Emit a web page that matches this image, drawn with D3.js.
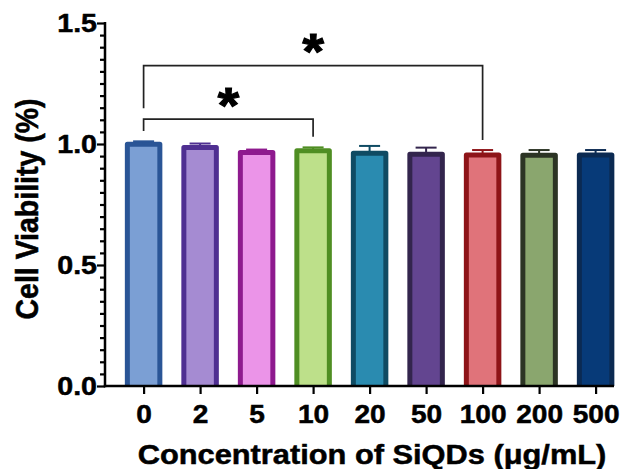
<!DOCTYPE html>
<html><head><meta charset="utf-8">
<script src="https://cdn.jsdelivr.net/npm/d3@7"></script>
<style>
body{margin:0;background:#fff}
svg text{font-family:"Liberation Sans",Arial,Helvetica,sans-serif;font-weight:bold;fill:#000;stroke:#000;stroke-width:0.5px}
</style>
</head><body>
<svg id="chart" width="624" height="469"></svg>
<script>
// ---- data ----
const categories = ["0","2","5","10","20","50","100","200","500"];
const values = [0.999,0.986,0.965,0.972,0.962,0.958,0.955,0.954,0.955];
const errors = [0.012,0.016,0.012,0.014,0.030,0.027,0.020,0.021,0.020];
const strokeColors = ["#2a5596","#4f2f91","#8e1a8e","#4f8e23","#0f4b63","#33254d","#8e1418","#2c3424","#0b2a52"];
const fillColors = ["#7b9fd4","#a58bd2","#eb94e8","#bde08a","#2a8bb0","#634590","#e0737a","#8aa66e","#073a78"];
const yTicks = [0,0.5,1.0,1.5];
const yMinorStep = 0.05;
const compFrom = ["0","0"];
const compTo = ["10","100"];
const compLevel = [1.103,1.324];
const compLeftEnd = [1.054,1.148];
const compRightEnd = [1.030,1.017];
const compLabel = ["*","*"];
const xTitle = "Concentration of SiQDs (\u03bcg/mL)";
const yTitle = "Cell Viability (%)";

// ---- layout ----
const SX = 1.1; // horizontal glyph stretch seen in reference
const plotLeft = 105, plotRight = 614, plotTop = 23, plotBottom = 386;
const svg = d3.select("#chart");
svg.append("rect").attr("width",624).attr("height",469).attr("fill","#fff");

const x = d3.scalePoint().domain(categories).range([143.6, 595.6]);
const y = d3.scaleLinear().domain([0,1.5]).range([plotBottom, plotTop]);
const barW = 32.5;

// bars
const g = svg.append("g");
categories.forEach((c,i)=>{
  const cx = x(c), yt = y(values[i]), yb = y(0);
  g.append("path")
    .attr("d", `M${cx-barW/2},${yb}V${yt}H${cx+barW/2}V${yb}`)
    .attr("fill", fillColors[i])
    .attr("stroke", strokeColors[i])
    .attr("stroke-width", 5)
    .attr("stroke-linejoin","round");
  const ye = y(values[i]+errors[i]);
  g.append("line").attr("x1",cx).attr("x2",cx).attr("y1",yt).attr("y2",ye)
    .attr("stroke",strokeColors[i]).attr("stroke-width",2);
  g.append("line").attr("x1",cx-10.5).attr("x2",cx+10.5).attr("y1",ye).attr("y2",ye)
    .attr("stroke",strokeColors[i]).attr("stroke-width",2);
});

// y axis
const yMinor = d3.range(0, 1.5+1e-9, yMinorStep).filter(v => !yTicks.some(t => Math.abs(t-v)<1e-6));
const yAxisMinor = svg.append("g").attr("transform",`translate(${plotLeft},0)`)
  .call(d3.axisLeft(y).tickValues(yMinor).tickSize(5).tickFormat(""));
yAxisMinor.select(".domain").remove();
yAxisMinor.selectAll("line").attr("stroke","#000").attr("stroke-width",2.2);

const yAxis = svg.append("g").attr("transform",`translate(${plotLeft},0)`)
  .call(d3.axisLeft(y).tickValues(yTicks).tickSize(8).tickFormat(d3.format(".1f")));
yAxis.select(".domain").remove();
yAxis.selectAll("line").attr("stroke","#000").attr("stroke-width",2.2);
yAxis.selectAll("text")
  .attr("x",0).attr("dy",null).attr("y",0)
  .attr("text-anchor","end")
  .attr("transform","translate(-8,8.8) scale(" + SX + ",1)")
  .style("font-size","26px");

svg.append("line").attr("x1",plotLeft).attr("x2",plotLeft).attr("y1",y(1.5)-1).attr("y2",y(0)+1.2)
  .attr("stroke","#000").attr("stroke-width",2.5);

// x axis
const xAxis = svg.append("g").attr("transform",`translate(0,${plotBottom})`)
  .call(d3.axisBottom(x).tickSize(8));
xAxis.select(".domain").remove();
xAxis.selectAll("line").attr("stroke","#000").attr("stroke-width",2.2);
xAxis.selectAll("text")
  .attr("y",0).attr("dy",null)
  .attr("transform","translate(0,36.5) scale(" + SX + ",1)")
  .style("font-size","25.5px");
svg.append("line").attr("x1",plotLeft-1.2).attr("x2",plotRight).attr("y1",y(0)).attr("y2",y(0))
  .attr("stroke","#000").attr("stroke-width",2.5);

// titles
svg.append("text").attr("text-anchor","middle")
  .attr("transform",`translate(372,463.5) scale(${SX},1)`)
  .style("font-size","28px").text(xTitle);
svg.append("text").attr("text-anchor","middle")
  .attr("transform",`translate(37.5,209) scale(${SX},1) rotate(-90)`)
  .style("font-size","28.5px").text(yTitle);

// significance brackets
compFrom.forEach((f,i)=>{
  const x1 = x(f), x2 = x(compTo[i]), yl = y(compLevel[i]);
  svg.append("path")
    .attr("d",`M${x1},${y(compLeftEnd[i])}V${yl}H${x2}V${y(compRightEnd[i])}`)
    .attr("fill","none").attr("stroke","#222").attr("stroke-width",1.7);
  svg.append("text").attr("text-anchor","middle")
    .attr("transform",`translate(${(x1+x2)/2},${yl+3.7}) scale(${SX},1)`)
    .style("font-size","50px").style("stroke-width","1.2px").text(compLabel[i]);
});
</script>
</body></html>
